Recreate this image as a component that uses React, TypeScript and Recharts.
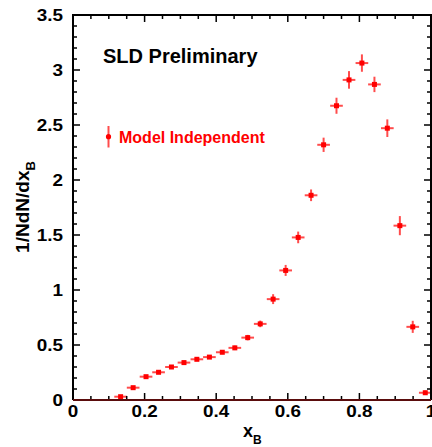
import React from "react";
import { ScatterChart, Scatter, XAxis, YAxis, ErrorBar, Customized } from "recharts";

// x_B bin centres
const xB = [
  0.133, 0.168, 0.204, 0.239, 0.275, 0.31, 0.346, 0.381, 0.417, 0.452, 0.488, 0.523, 0.559,
  0.594, 0.629, 0.665, 0.7, 0.736, 0.771, 0.807, 0.842, 0.878, 0.913, 0.949, 0.984,
];
// 1/N dN/dx_B
const dNdx = [
  0.03, 0.112, 0.212, 0.252, 0.3, 0.34, 0.37, 0.39, 0.434, 0.474, 0.567, 0.692, 0.917,
  1.178, 1.478, 1.861, 2.32, 2.675, 2.91, 3.063, 2.869, 2.471, 1.585, 0.665, 0.066,
];
// statistical error on 1/N dN/dx_B
const yErr = [
  0.01, 0.012, 0.012, 0.012, 0.012, 0.013, 0.014, 0.015, 0.017, 0.02, 0.025, 0.03, 0.045,
  0.05, 0.053, 0.053, 0.065, 0.073, 0.08, 0.079, 0.07, 0.08, 0.087, 0.055, 0.02,
];
// half bin width
const xErr = [
  0.0177, 0.0177, 0.0177, 0.0177, 0.0177, 0.0177, 0.0177, 0.0177, 0.0177, 0.0177, 0.0177,
  0.0177, 0.0177, 0.0177, 0.0177, 0.0177, 0.0177, 0.0177, 0.0177, 0.0177, 0.0177, 0.0177,
  0.0177, 0.0177, 0.0177,
];

const xMajorTicks = [0, 0.2, 0.4, 0.6, 0.8, 1];
const xTickLabels = ["0", "0.2", "0.4", "0.6", "0.8", "1"];
const yMajorTicks = [0, 0.5, 1, 1.5, 2, 2.5, 3, 3.5];
const yTickLabels = ["0", "0.5", "1", "1.5", "2", "2.5", "3", "3.5"];

const X_DOMAIN: [number, number] = [0, 1];
const Y_DOMAIN: [number, number] = [0, 3.5];

const xAllTicks = Array.from({ length: 21 }, (_, i) => +(i * 0.05).toFixed(2));
const yAllTicks = Array.from({ length: 36 }, (_, i) => +(i * 0.1).toFixed(1));

const data = xB.map((x, i) => ({ x, y: dNdx[i], ex: xErr[i], ey: yErr[i] }));

// chart geometry
const CHART_W = 432;
const CHART_H = 447;
const MARGIN = { top: 15, right: 1, bottom: 0, left: 0 };
const Y_AXIS_W = 73;
const X_AXIS_H = 47;
const PLOT = {
  left: MARGIN.left + Y_AXIS_W,
  top: MARGIN.top,
  width: CHART_W - MARGIN.left - MARGIN.right - Y_AXIS_W,
  height: CHART_H - MARGIN.top - MARGIN.bottom - X_AXIS_H,
};

const FONT = "'Liberation Sans', Arial, Helvetica, sans-serif";
const RED = "#ff0000";
const INK = "#000000";

const majorIndex = (v: number, majors: number[]) =>
  majors.findIndex((m) => Math.abs(m - v) < 1e-6);

const MAJOR_LEN = 7;
const MINOR_LEN = 4;

function BottomTickLabel(props: any) {
  const { x, y, payload } = props;
  const idx = majorIndex(payload.value, xMajorTicks);
  if (idx < 0) return null;
  return (
    <text
      transform={`translate(${x},${y + 17}) scale(1.18,1)`}
      textAnchor="middle"
      fontFamily={FONT}
      fontWeight="bold"
      fontSize={16}
      fill="#000"
    >
      {xTickLabels[idx]}
    </text>
  );
}

function LeftTickLabel(props: any) {
  const { x, y, payload } = props;
  const idx = majorIndex(payload.value, yMajorTicks);
  if (idx < 0) return null;
  return (
    <text
      transform={`translate(${x - 10},${y + 6}) scale(1.18,1)`}
      textAnchor="end"
      fontFamily={FONT}
      fontWeight="bold"
      fontSize={16}
      fill="#000"
    >
      {yTickLabels[idx]}
    </text>
  );
}

function PointMarker(props: any) {
  const { cx, cy } = props;
  if (cx == null || cy == null) return null;
  return <rect x={cx - 2.5} y={cy - 2.5} width={5} height={5} fill={RED} />;
}

// Titles and legend inside the chart
function Annotations() {
  return (
    <g fontFamily={FONT} fontWeight="bold">
      <text x={103} y={62.5} fontSize={20} fill="#000">
        SLD Preliminary
      </text>
      <line x1={108.5} x2={108.5} y1={126} y2={147.5} stroke={RED} strokeOpacity={0.7} strokeWidth={2} />
      <circle cx={108.5} cy={136.7} r={2.6} fill={RED} />
      <text x={119} y={142.7} fontSize={16} fill={RED}>
        Model Independent
      </text>
      <text transform="translate(29,207) rotate(-90)" textAnchor="middle" fontSize={19} fill="#000">
        1/NdN/dx
        <tspan fontSize={13} dy={6}>
          B
        </tspan>
      </text>
      <text x={243} y={437} fontSize={18} fill="#000">
        x
        <tspan fontSize={12} dy={7}>
          B
        </tspan>
      </text>
    </g>
  );
}

// Frame with inward-pointing ticks on all four sides, layered over the chart
function FrameOverlay() {
  const { left, top, width, height } = PLOT;
  const right = left + width;
  const bottom = top + height;
  const sx = (v: number) => left + ((v - X_DOMAIN[0]) / (X_DOMAIN[1] - X_DOMAIN[0])) * width;
  const sy = (v: number) => bottom - ((v - Y_DOMAIN[0]) / (Y_DOMAIN[1] - Y_DOMAIN[0])) * height;
  let ticks = "";
  xAllTicks.forEach((v) => {
    const len = majorIndex(v, xMajorTicks) >= 0 ? MAJOR_LEN : MINOR_LEN;
    const px = sx(v);
    ticks += `M${px} ${bottom}L${px} ${bottom - len}M${px} ${top}L${px} ${top + len}`;
  });
  yAllTicks.forEach((v) => {
    const len = majorIndex(v, yMajorTicks) >= 0 ? MAJOR_LEN : MINOR_LEN;
    const py = sy(v);
    ticks += `M${left} ${py}L${left + len} ${py}M${right} ${py}L${right - len} ${py}`;
  });
  return (
    <svg
      width={CHART_W}
      height={CHART_H}
      style={{ position: "absolute", left: 0, top: 0, pointerEvents: "none", overflow: "visible" }}
    >
      <path d={ticks} fill="none" stroke={INK} strokeWidth={1.5} />
      <path
        d={`M${left} ${bottom}L${left} ${top}L${right} ${top}L${right} ${bottom}`}
        fill="none"
        stroke={INK}
        strokeWidth={2}
      />
      <path d={`M${left} ${bottom}L${right} ${bottom}`} fill="none" stroke="#5a0c0c" strokeWidth={2} />
    </svg>
  );
}

export default function App() {
  return (
    <div
      style={{
        position: "absolute",
        left: 0,
        top: 0,
        width: CHART_W,
        height: CHART_H,
        background: "#fff",
      }}
    >
      <ScatterChart width={CHART_W} height={CHART_H} margin={MARGIN}>
        <XAxis
          xAxisId="main"
          dataKey="x"
          type="number"
          domain={X_DOMAIN}
          ticks={xAllTicks}
          interval={0}
          height={X_AXIS_H}
          tickSize={0}
          tickMargin={0}
          tickLine={false}
          tick={<BottomTickLabel />}
          axisLine={false}
          allowDataOverflow
        />
        <YAxis
          yAxisId="main"
          dataKey="y"
          type="number"
          domain={Y_DOMAIN}
          ticks={yAllTicks}
          interval={0}
          width={Y_AXIS_W}
          tickSize={0}
          tickMargin={0}
          tickLine={false}
          tick={<LeftTickLabel />}
          axisLine={false}
          allowDataOverflow
        />
        <Scatter
          name="Model Independent"
          data={data}
          xAxisId="main"
          yAxisId="main"
          fill={RED}
          shape={<PointMarker />}
          isAnimationActive={false}
        >
          <ErrorBar dataKey="ey" direction="y" width={0} stroke={RED} strokeOpacity={0.7} strokeWidth={2} isAnimationActive={false} />
          <ErrorBar dataKey="ex" direction="x" width={0} stroke={RED} strokeOpacity={0.7} strokeWidth={2} isAnimationActive={false} />
        </Scatter>
        <Customized component={Annotations} />
      </ScatterChart>
      <FrameOverlay />
    </div>
  );
}
